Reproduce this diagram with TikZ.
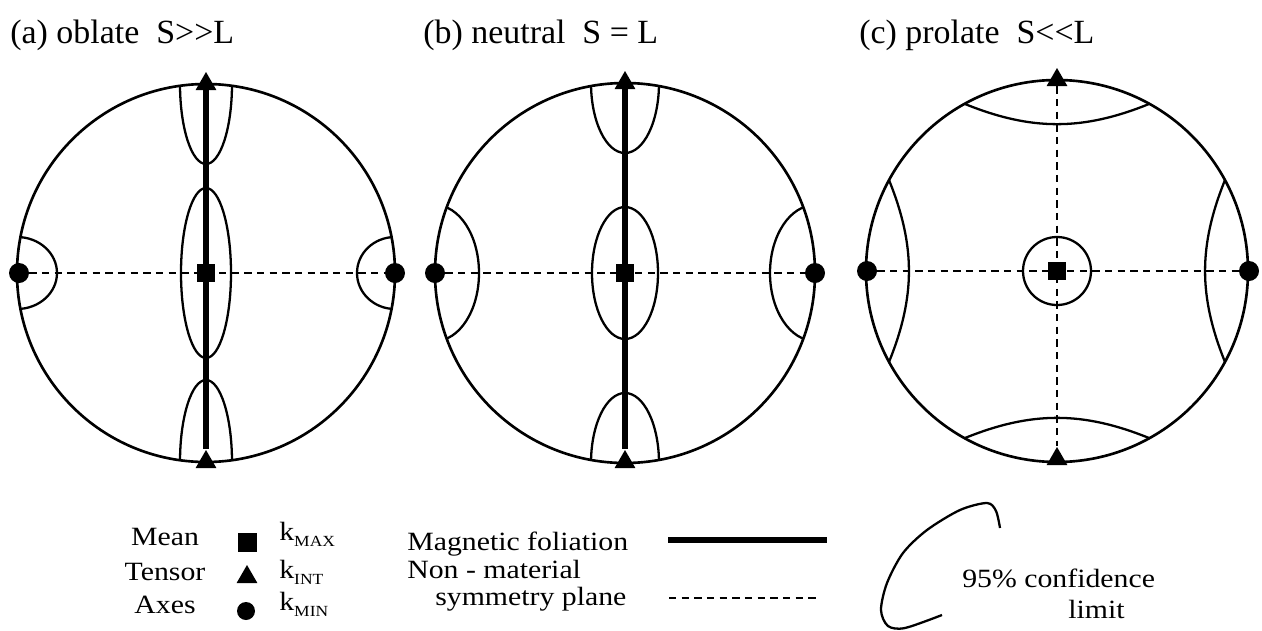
\documentclass[tikz,border=0pt]{standalone}
\usepackage{fontspec}
\setmainfont{Liberation Serif}
\newfontfamily\lgdfont{Liberation Serif}[FakeStretch=1.13]
\usetikzlibrary{shapes.geometric}

\newcommand{\ksub}[1]{k\raisebox{-0.12cm}{\fontsize{8.8}{11}\selectfont #1}}

\begin{document}
\begin{tikzpicture}[x=0.02cm, y=-0.02cm,
  rim/.style={line width=1.5pt},
  conf/.style={line width=1.3pt},
  foli/.style={line width=2.9pt},
  symm/.style={line width=0.9pt, dash pattern=on 4.2pt off 3pt},
  kmax/.style={rectangle, fill, inner sep=0pt, minimum size=0.35cm},
  kint/.style={regular polygon, regular polygon sides=3, fill, inner sep=0pt, minimum size=0.48cm},
  kmin/.style={circle, fill, inner sep=0pt, minimum size=0.4cm},
  ttl/.style={anchor=base west, inner sep=0pt, font=\fontsize{19.3}{23}\selectfont},
  lgd/.style={anchor=base west, inner sep=0pt, font=\lgdfont\fontsize{15}{18}\selectfont}]
\useasboundingbox (0,0) rectangle (1262,630);

% (a) oblate
\node[ttl] (ta) at (10,43) {(a) oblate\ \ S>\kern0pt>L};
\begin{scope}[shift={(206,273)}]
  \begin{scope}
    \clip (0,0) circle[radius=189];
    \draw[conf] (0,0) ellipse[x radius=25, y radius=85];
    \draw[conf] (0,-189) ellipse[x radius=26, y radius=80];
    \draw[conf] (0,189) ellipse[x radius=26, y radius=82];
    \draw[conf] (-189,0) ellipse[x radius=40, y radius=36];
    \draw[conf] (189,0) ellipse[x radius=38, y radius=36];
  \end{scope}
  \draw[rim] (0,0) circle[radius=189];
  \node[kmax] (aM) at (0,0) {};
  \node[kint] (aT) at (0,-189) {};
  \node[kint] (aB) at (0,189) {};
  \node[kmin] (aL) at (-187,0) {};
  \node[kmin] (aR) at (189,0) {};
  \draw[symm] (aL) -- (aR);
  \draw[foli] (aT) -- (aB);
\end{scope}

% (b) neutral
\node[ttl] (tb) at (423,43) {(b) neutral\ \ S = L};
\begin{scope}[shift={(625,273)}]
  \begin{scope}
    \clip (0,0) circle[radius=190];
    \draw[conf] (0,0) ellipse[x radius=33, y radius=66];
    \draw[conf] (0,-190) ellipse[x radius=34, y radius=70];
    \draw[conf] (0,190) ellipse[x radius=34, y radius=70];
    \draw[conf] (-190,0) ellipse[x radius=44, y radius=68];
    \draw[conf] (190,0) ellipse[x radius=45, y radius=68];
  \end{scope}
  \draw[rim] (0,0) circle[radius=190];
  \node[kmax] (bM) at (0,0) {};
  \node[kint] (bT) at (0,-190) {};
  \node[kint] (bB) at (0,189) {};
  \node[kmin] (bL) at (-190,0) {};
  \node[kmin] (bR) at (190,0) {};
  \draw[symm] (bL) -- (bR);
  \draw[foli] (bT) -- (bB);
\end{scope}

% (c) prolate
\node[ttl] (tc) at (859,43) {(c) prolate\ \ S<\kern0pt<L};
\begin{scope}[shift={(1057,271)}]
  \draw[conf] (0,0) circle[radius=34];
  \draw[conf] (-92,-167) to[bend right=22] (92,-167);
  \draw[conf] (-92,167) to[bend left=22] (92,167);
  \draw[conf] (-168,-91) to[bend left=22] (-168,91);
  \draw[conf] (168,-91) to[bend right=22] (168,91);
  \draw[rim] (0,0) circle[radius=191];
  \node[kmax] (cM) at (0,0) {};
  \node[kint] (cT) at (0,-191) {};
  \node[kint] (cB) at (0,188) {};
  \node[kmin] (cL) at (-190,0) {};
  \node[kmin] (cR) at (192,0) {};
  \draw[symm] (cL) -- (cR);
  \draw[symm] (cT) -- (cB);
\end{scope}

% legend: axes
\node[lgd, anchor=base] (mean) at (165,545) {Mean};
\node[lgd, anchor=base] (tens) at (165,580) {Tensor};
\node[lgd, anchor=base] (axes) at (165,613) {Axes};
\node[kmax, minimum size=0.38cm] (lmax) at (247,542) {};
\node[kint] (lint) at (247,577) {};
\node[kmin, minimum size=0.36cm] (lmin) at (246,611) {};
\node[lgd] (kmx) at (279,540) {\ksub{MAX}};
\node[lgd] (knt) at (279,578) {\ksub{INT}};
\node[lgd] (kmn) at (279,610) {\ksub{MIN}};

% legend: planes
\node[lgd] (mfol) at (407,550) {Magnetic foliation};
\coordinate (f1) at (668,540);
\coordinate (f2) at (827,540);
\draw[foli] (f1) -- (f2);
\node[lgd] (nmat) at (407,578) {Non - material};
\node[lgd] (symp) at (435,605) {symmetry plane};
\coordinate (s1) at (669,598);
\coordinate (s2) at (820,598);
\draw[symm, line width=0.7pt] (s1) -- (s2);

% legend: confidence
\draw[conf] plot[smooth] coordinates {(1000,528) (996,511) (987,503) (960,510) (927,530) (903,553) (887,583) (881,610) (888,626) (905,628) (942,615)};
\node[lgd] (cfl) at (962,587) {95\% confidence};
\node[lgd] (lim) at (1068,618) {limit};
\end{tikzpicture}
\end{document}
